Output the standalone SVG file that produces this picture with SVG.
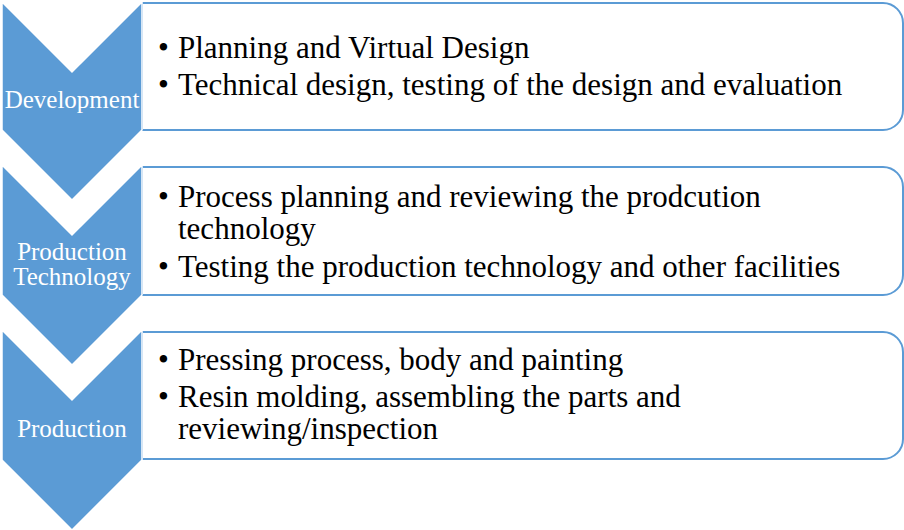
<svg xmlns="http://www.w3.org/2000/svg" width="904" height="530" viewBox="0 0 904 530">
<style>
.box{fill:#fff;stroke:#5B9BD5;stroke-width:2}
.chev{fill:#5B9BD5;stroke:#fff;stroke-width:1.5}
.lbl{font-family:'Liberation Serif','Times New Roman',serif;font-size:25px;fill:#fff;text-anchor:middle}
.txt{font-family:'Liberation Serif','Times New Roman',serif;font-size:31px;fill:#000}
</style>
<rect width="904" height="530" fill="#fff"/>
<g id="connectors"></g>
<g id="box1">
<path class="box" d="M142,3 H883 A20,20 0 0 1 903,23 V110 A20,20 0 0 1 883,130 H142 Z"/>
<text class="txt" x="158" y="58">•</text><text class="txt" x="178" y="58">Planning and Virtual Design</text>
<text class="txt" x="158" y="95">•</text><text class="txt" x="178" y="95">Technical design, testing of the design and evaluation</text>
</g>
<g id="box2">
<path class="box" d="M142,167 H883 A20,20 0 0 1 903,187 V275 A20,20 0 0 1 883,295 H142 Z"/>
<text class="txt" x="158" y="207">•</text><text class="txt" x="178" y="207">Process planning and reviewing the prodcution</text>
<text class="txt" x="178" y="239">technology</text>
<text class="txt" x="158" y="277">•</text><text class="txt" x="178" y="277">Testing the production technology and other facilities</text>
</g>
<g id="box3">
<path class="box" d="M142,332 H883 A20,20 0 0 1 903,352 V439 A20,20 0 0 1 883,459 H142 Z"/>
<text class="txt" x="158" y="370">•</text><text class="txt" x="178" y="370">Pressing process, body and painting</text>
<text class="txt" x="158" y="407">•</text><text class="txt" x="178" y="407">Resin molding, assembling the parts and</text>
<text class="txt" x="178" y="439">reviewing/inspection</text>
</g>
<g id="chevron1">
<polygon class="chev" points="2,2 72,72 142,2 142,130 72,200 2,130"/>
<text class="lbl" x="72" y="108">Development</text>
</g>
<g id="chevron2">
<polygon class="chev" points="2,165 72,235 142,165 142,295 72,365 2,295"/>
<text class="lbl" x="72" y="260">Production</text>
<text class="lbl" x="72" y="285">Technology</text>
</g>
<g id="chevron3">
<polygon class="chev" points="2,330 72,400 142,330 142,460 72,530 2,460"/>
<text class="lbl" x="72" y="437">Production</text>
</g>
</svg>
